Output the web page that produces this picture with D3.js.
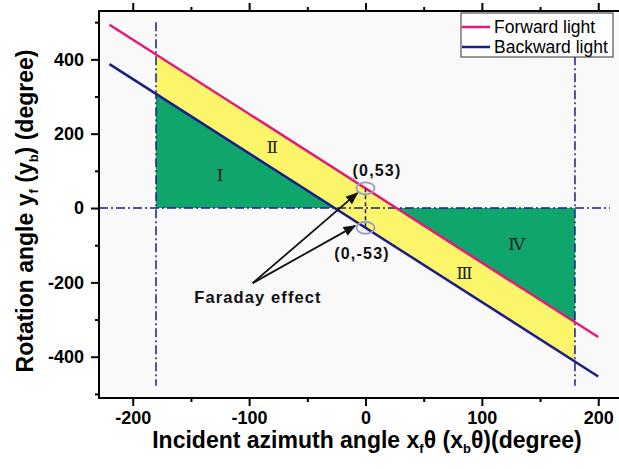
<!DOCTYPE html>
<html><head><meta charset="utf-8">
<script src="https://cdn.jsdelivr.net/npm/d3@7"></script>
<style>body{margin:0;background:#fff;} svg{display:block;}</style>
</head><body>
<svg id="c" width="619" height="469"></svg>
<script>
// ---- data ----
const lineX = [-220, 200];
const forwardY = [493, -347];
const backwardY = [387, -453];
// yellow band between the two lines, x = -180 .. 180
const bandX = [-180, 180];
const bandTop = [413, -307];
const bandBottom = [307, -413];
// green regions
const regionI = [[-180, 0], [-180, 307], [-26.5, 0]];
const regionIV = [[26.5, 0], [180, 0], [180, -307]];
const boundaryX = [-180, 180];
const boundaryYRange = [500, -478];
const zeroLineX = [-229, 210];
const faradayPoints = [[0, 53], [0, -53]];
const pointLabels = ["(0,53)", "(0,-53)"];
const romanLabels = ["Ⅰ", "Ⅱ", "Ⅲ", "Ⅳ"];
const romanPos = [[-125, 90], [-80, 163], [85, -176], [130, -96]];
const xTicks = [-200, -100, 0, 100, 200];
const yTicks = [-400, -200, 0, 200, 400];
const legendLabels = ["Forward light", "Backward light"];
const colors = {fwd: "#e5177b", bwd: "#1b1b8a", yellow: "#fbf56a", green: "#10a66b"};

const svg = d3.select("#c");
const L = 99, R = 625, T = 11, B = 398;
const x = d3.scaleLinear().domain([-229, 223]).range([L, R]);
const y = d3.scaleLinear().domain([-511, 530]).range([B, T]);
const fmt = v => String(v);

svg.append("rect").attr("x", L).attr("y", T).attr("width", R - L).attr("height", B - T).attr("fill", "#f9f9fa");

// yellow band
const band = bandX.map((v, i) => [v, bandTop[i]]).concat(bandX.map((v, i) => [v, bandBottom[i]]).reverse());
const poly = d3.line().x(d => x(d[0])).y(d => y(d[1]));
svg.append("path").attr("d", poly(band) + "Z").attr("fill", colors.yellow);
svg.append("path").attr("d", poly(regionI) + "Z").attr("fill", colors.green);
svg.append("path").attr("d", poly(regionIV) + "Z").attr("fill", colors.green);

// dash-dot boundaries
const dd = "9,3,2,3";
boundaryX.forEach(bx => {
  svg.append("line").attr("x1", x(bx)).attr("x2", x(bx)).attr("y1", y(boundaryYRange[0])).attr("y2", y(boundaryYRange[1]))
    .attr("stroke", colors.bwd).attr("stroke-width", 1.5).attr("stroke-dasharray", dd);
});
svg.append("line").attr("x1", x(zeroLineX[0])).attr("x2", x(zeroLineX[1])).attr("y1", y(0)).attr("y2", y(0))
  .attr("stroke", colors.bwd).attr("stroke-width", 1.5).attr("stroke-dasharray", dd);

// lines
const fwd = lineX.map((v, i) => [v, forwardY[i]]);
const bwd = lineX.map((v, i) => [v, backwardY[i]]);
svg.append("path").attr("d", poly(fwd)).attr("stroke", colors.fwd).attr("stroke-width", 2.5).attr("fill", "none");
svg.append("path").attr("d", poly(bwd)).attr("stroke", colors.bwd).attr("stroke-width", 2.5).attr("fill", "none");

// faraday markers
svg.append("line").attr("x1", x(0)).attr("x2", x(0)).attr("y1", y(faradayPoints[0][1])).attr("y2", y(faradayPoints[1][1]))
  .attr("stroke", colors.bwd).attr("stroke-width", 1.5).attr("stroke-dasharray", "4,3");
faradayPoints.forEach(p => {
  svg.append("ellipse").attr("cx", x(p[0])).attr("cy", y(p[1])).attr("rx", 9).attr("ry", 6)
    .attr("fill", "none").attr("stroke", "#9c98d0").attr("stroke-width", 1.8);
});
svg.append("text").attr("x", 377).attr("y", 176).attr("text-anchor", "middle").attr("font-family", "Liberation Sans")
  .attr("font-weight", "bold").attr("font-size", 16).attr("letter-spacing", 1.2).attr("fill", "#111").text(pointLabels[0]);
svg.append("text").attr("x", 362).attr("y", 259).attr("text-anchor", "middle").attr("font-family", "Liberation Sans")
  .attr("font-weight", "bold").attr("font-size", 16).attr("letter-spacing", 1.2).attr("fill", "#111").text(pointLabels[1]);

// arrows
const defs = svg.append("defs");
defs.append("marker").attr("id", "ah").attr("viewBox", "0 0 10 10").attr("refX", 9).attr("refY", 5)
  .attr("markerWidth", 7).attr("markerHeight", 7).attr("orient", "auto").attr("markerUnits", "strokeWidth")
  .append("path").attr("d", "M0,1 L10,5 L0,9 Z").attr("fill", "#111");
const arrowBase = [-97, -202];
const arrowTips = [[-7, 40], [-9, -48]];
arrowTips.forEach(t => {
  svg.append("line").attr("x1", x(arrowBase[0])).attr("y1", y(arrowBase[1])).attr("x2", x(t[0])).attr("y2", y(t[1]))
    .attr("stroke", "#111").attr("stroke-width", 1.8).attr("marker-end", "url(#ah)");
});
svg.append("text").attr("x", 258).attr("y", 303).attr("text-anchor", "middle").attr("font-family", "Liberation Sans")
  .attr("font-weight", "bold").attr("font-size", 16.5).attr("letter-spacing", 1.1).attr("fill", "#111").text("Faraday effect");

// roman numerals
romanLabels.forEach((r, i) => {
  svg.append("text").attr("x", x(romanPos[i][0])).attr("y", y(romanPos[i][1])).attr("text-anchor", "middle")
    .attr("dominant-baseline", "central").attr("font-family", "DejaVu Serif, Liberation Serif").attr("font-size", 17)
    .attr("fill", "#222").text(r);
});

// frame
svg.append("rect").attr("x", L).attr("y", T).attr("width", R - L).attr("height", B - T).attr("fill", "none")
  .attr("stroke", "#000").attr("stroke-width", 2);

// axes
const fontAx = g => g.selectAll("text").attr("font-family", "Liberation Sans").attr("font-weight", "bold").attr("font-size", 18).attr("fill", "#000");
const styleAx = g => { g.select(".domain").remove(); g.selectAll("line").attr("stroke", "#000").attr("stroke-width", 2); };
const xMinor = d3.range(-200, 201, 50).filter(v => !xTicks.includes(v));
const yMinor = d3.range(-500, 501, 100).filter(v => !yTicks.includes(v));

svg.append("g").attr("transform", `translate(0,${B})`).call(d3.axisBottom(x).tickValues(xTicks).tickSize(8).tickPadding(5).tickFormat(fmt)).call(styleAx).call(fontAx);
svg.append("g").attr("transform", `translate(0,${B})`).call(d3.axisBottom(x).tickValues(xMinor).tickSize(4).tickFormat("")).call(styleAx);
svg.append("g").attr("transform", `translate(0,${T})`).call(d3.axisTop(x).tickValues(xTicks).tickSize(8).tickFormat("")).call(styleAx);
svg.append("g").attr("transform", `translate(0,${T})`).call(d3.axisTop(x).tickValues(xMinor).tickSize(4).tickFormat("")).call(styleAx);
svg.append("g").attr("transform", `translate(${L},0)`).call(d3.axisLeft(y).tickValues(yTicks).tickSize(8).tickPadding(7).tickFormat(fmt)).call(styleAx).call(fontAx);
svg.append("g").attr("transform", `translate(${L},0)`).call(d3.axisLeft(y).tickValues(yMinor).tickSize(4).tickFormat("")).call(styleAx);

// axis titles
const xt = svg.append("text").attr("x", 367).attr("y", 448).attr("text-anchor", "middle").attr("font-family", "Liberation Sans")
  .attr("font-weight", "bold").attr("font-size", 23).attr("fill", "#000");
xt.append("tspan").text("Incident azimuth angle x");
xt.append("tspan").attr("font-size", 13).attr("dy", 5).text("f");
xt.append("tspan").attr("dy", -5).text("θ (x");
xt.append("tspan").attr("font-size", 13).attr("dy", 5).text("b");
xt.append("tspan").attr("dy", -5).text("θ)(degree)");

const yt = svg.append("text").attr("transform", "translate(33,211) rotate(-90)").attr("text-anchor", "middle").attr("font-family", "Liberation Sans")
  .attr("font-weight", "bold").attr("font-size", 23).attr("fill", "#000");
yt.append("tspan").text("Rotation angle y");
yt.append("tspan").attr("font-size", 13).attr("dy", 5).text("f");
yt.append("tspan").attr("dy", -5).text(" (y");
yt.append("tspan").attr("font-size", 13).attr("dy", 5).text("b");
yt.append("tspan").attr("dy", -5).text(") (degree)");

// legend
const lg = svg.append("g");
lg.append("rect").attr("x", 461).attr("y", 13).attr("width", 152).attr("height", 44).attr("fill", "#fff").attr("stroke", "#333").attr("stroke-width", 1);
[colors.fwd, colors.bwd].forEach((c, i) => {
  lg.append("line").attr("x1", 462).attr("x2", 490).attr("y1", 27 + i * 20).attr("y2", 27 + i * 20).attr("stroke", c).attr("stroke-width", 2.5);
  lg.append("text").attr("x", 494).attr("y", 27 + i * 20).attr("dominant-baseline", "central").attr("font-family", "Liberation Sans")
    .attr("font-size", 17.5).attr("fill", "#000").text(legendLabels[i]);
});
</script>
</body></html>
